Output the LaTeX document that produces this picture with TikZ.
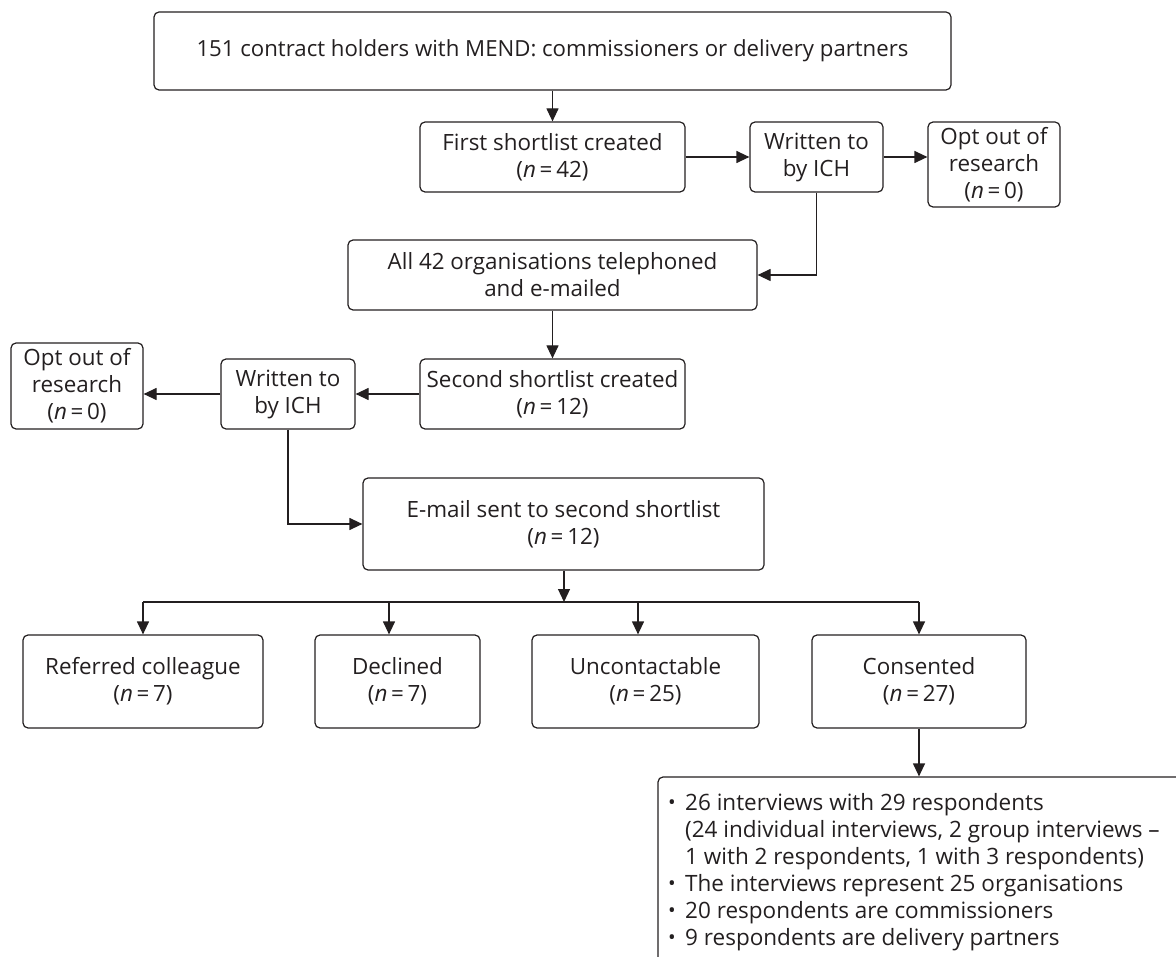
\documentclass[tikz,border=0pt]{standalone}
\usepackage{fontspec}
\setmainfont{Open Sans}
\usetikzlibrary{arrows.meta,calc}
\definecolor{ink}{RGB}{35,31,32}
\tikzset{
  box/.style={draw=ink, line width=1.2pt, rounded corners=5pt, inner sep=0pt, align=center,
    text=ink, font=\fontsize{22.4}{27}\selectfont},
  arr/.style={draw=ink, line width=1.2pt, -{Triangle[width=12pt,length=13pt]}},
  ln/.style={draw=ink, line width=1.2pt},
}
\newcommand{\nn}[1]{(\textit{n}\,=\,#1)}
\newcommand{\bul}{\makebox[17pt][l]{\raisebox{1pt}{\scalebox{0.9}{•}}}}
\begin{document}
\begin{tikzpicture}[x=1pt,y=-1pt]
\useasboundingbox (0,0) rectangle (1176,957);
\clip (0,0) rectangle (1176,957);
\node[box, minimum width=797pt, minimum height=78pt, font=\fontsize{22.2}{27}\selectfont] (top) at (552.5,51) {151 contract holders with MEND: commissioners or delivery partners};
\node[box, minimum width=265pt, minimum height=70pt] (first) at (552.5,157) {First shortlist created\\\nn{42}};
\node[box, minimum width=133pt, minimum height=70pt] (wr1) at (816.5,157) {Written to\\by ICH};
\node[box, minimum width=132pt, minimum height=85pt] (opt1) at (994,164.5) {Opt out of\\research\\\nn{0}};
\node[box, minimum width=409pt, minimum height=70pt] (all) at (552.5,275) {All 42 organisations telephoned\\and e-mailed};
\node[box, minimum width=265pt, minimum height=70pt] (second) at (552.5,394) {Second shortlist created\\\nn{12}};
\node[box, minimum width=134pt, minimum height=70pt] (wr2) at (288,394) {Written to\\by ICH};
\node[box, minimum width=132pt, minimum height=86pt] (opt2) at (77,386) {Opt out of\\research\\\nn{0}};
\node[box, minimum width=401pt, minimum height=92pt] (email) at (563.5,524) {E-mail sent to second shortlist\\\nn{12}};
\coordinate (br) at (564,602);
\node[box, minimum width=240pt, minimum height=93pt] (ref) at (143,681.5) {Referred colleague\\\nn{7}};
\node[box, minimum width=165pt, minimum height=93pt] (dec) at (397.5,681.5) {Declined\\\nn{7}};
\node[box, minimum width=227pt, minimum height=93pt] (unc) at (645.5,681.5) {Uncontactable\\\nn{25}};
\node[box, minimum width=214pt, minimum height=93pt] (con) at (919,681.5) {Consented\\\nn{27}};
\node[box, minimum width=542pt, minimum height=203pt] (fin) at (929,878.5) {};
\node[anchor=base west, inner sep=0pt, align=left, text=ink, font=\fontsize{22.5}{27}\selectfont] (fintext) at (668,945)
  {\bul 26 interviews with 29 respondents\\
   \hspace*{17pt}(24 individual interviews, 2 group interviews –\\
   \hspace*{17pt}1 with 2 respondents, 1 with 3 respondents)\\
   \bul The interviews represent 25 organisations\\
   \bul 20 respondents are commissioners\\
   \bul 9 respondents are delivery partners};
\draw[arr] (top.south) -- (first.north);
\draw[arr] (first.east) -- (wr1.west);
\draw[arr] (wr1.east) -- (wr1.east -| opt1.west);
\draw[arr] (wr1.south) |- (all.east);
\draw[arr] (all.south) -- (second.north);
\draw[arr] (second.west) -- (wr2.east);
\draw[arr] (wr2.west) -- (wr2.west -| opt2.east);
\draw[arr] (wr2.south) |- (email.west);
\draw[arr] (email.south -| br) -- (br);
\draw[ln] (ref.north |- br) -- (con.north |- br);
\draw[arr] (ref.north |- br) -- (ref.north);
\draw[arr] ([xshift=-8.5pt]dec.north |- br) -- ([xshift=-8.5pt]dec.north);
\draw[arr] ([xshift=-7.5pt]unc.north |- br) -- ([xshift=-7.5pt]unc.north);
\draw[arr] (con.north |- br) -- (con.north);
\draw[arr] (con.south) -- (con.south |- fin.north);
\end{tikzpicture}
\end{document}
